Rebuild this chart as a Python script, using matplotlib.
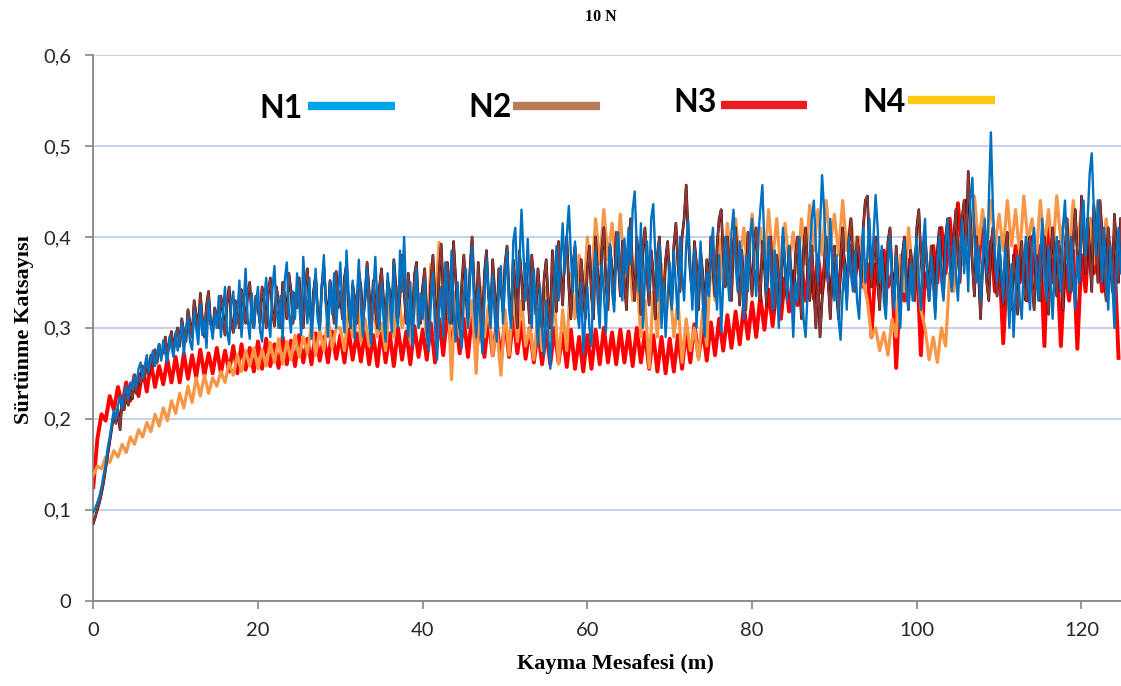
import numpy as np
import matplotlib.pyplot as plt
from matplotlib.lines import Line2D

# friction coefficient readings; N1 and N2 logged every 0.25 m, N3 and N4 every 0.5 m
# (each row below covers 5 m of sliding)
n1 = [
    0.097, 0.102, 0.108, 0.115, 0.125, 0.138, 0.150, 0.168, 0.180, 0.195, 0.210, 0.200, 0.215, 0.225, 0.212, 0.228, 0.236, 0.222, 0.240, 0.232,
    0.248, 0.236, 0.255, 0.262, 0.244, 0.258, 0.270, 0.252, 0.265, 0.275, 0.258, 0.270, 0.282, 0.264, 0.286, 0.272, 0.262, 0.290, 0.278, 0.268,
    0.295, 0.275, 0.288, 0.305, 0.270, 0.298, 0.312, 0.285, 0.276, 0.318, 0.300, 0.282, 0.325, 0.292, 0.310, 0.278, 0.330, 0.305, 0.288, 0.315,
    0.300, 0.335, 0.290, 0.318, 0.345, 0.296, 0.282, 0.325, 0.340, 0.300, 0.315, 0.352, 0.290, 0.322, 0.365, 0.310, 0.288, 0.338, 0.300, 0.325,
    0.345, 0.298, 0.285, 0.330, 0.355, 0.312, 0.290, 0.342, 0.368, 0.320, 0.300, 0.335, 0.288, 0.352, 0.372, 0.318, 0.295, 0.340, 0.310, 0.360,
    0.330, 0.292, 0.378, 0.340, 0.305, 0.355, 0.288, 0.320, 0.365, 0.310, 0.298, 0.345, 0.380, 0.325, 0.290, 0.350, 0.315, 0.360, 0.300, 0.340,
    0.372, 0.318, 0.295, 0.385, 0.340, 0.300, 0.352, 0.288, 0.330, 0.375, 0.320, 0.290, 0.345, 0.365, 0.305, 0.282, 0.338, 0.378, 0.325, 0.298,
    0.350, 0.310, 0.285, 0.360, 0.330, 0.295, 0.372, 0.318, 0.300, 0.385, 0.340, 0.400, 0.330, 0.290, 0.350, 0.280, 0.325, 0.365, 0.300, 0.338,
    0.310, 0.352, 0.290, 0.275, 0.330, 0.360, 0.300, 0.265, 0.318, 0.345, 0.290, 0.372, 0.338, 0.305, 0.385, 0.320, 0.285, 0.350, 0.300, 0.278,
    0.332, 0.365, 0.300, 0.355, 0.390, 0.322, 0.290, 0.345, 0.310, 0.272, 0.330, 0.375, 0.340, 0.300, 0.358, 0.312, 0.285, 0.340, 0.368, 0.305,
    0.350, 0.385, 0.320, 0.300, 0.395, 0.410, 0.345, 0.372, 0.430, 0.380, 0.330, 0.398, 0.350, 0.300, 0.365, 0.320, 0.280, 0.345, 0.300, 0.270,
    0.330, 0.290, 0.255, 0.310, 0.345, 0.390, 0.330, 0.372, 0.415, 0.360, 0.400, 0.434, 0.380, 0.340, 0.395, 0.320, 0.300, 0.350, 0.272, 0.310,
    0.345, 0.300, 0.280, 0.360, 0.385, 0.330, 0.300, 0.370, 0.340, 0.295, 0.355, 0.392, 0.340, 0.318, 0.380, 0.405, 0.350, 0.330, 0.398, 0.360,
    0.410, 0.370, 0.430, 0.450, 0.390, 0.340, 0.415, 0.300, 0.360, 0.395, 0.340, 0.420, 0.436, 0.380, 0.330, 0.392, 0.300, 0.350, 0.290, 0.335,
    0.372, 0.320, 0.385, 0.345, 0.310, 0.400, 0.360, 0.330, 0.392, 0.418, 0.370, 0.320, 0.385, 0.300, 0.350, 0.395, 0.330, 0.290, 0.360, 0.335,
    0.385, 0.410, 0.350, 0.320, 0.380, 0.295, 0.350, 0.400, 0.360, 0.330, 0.405, 0.430, 0.370, 0.340, 0.395, 0.360, 0.310, 0.380, 0.340, 0.400,
    0.420, 0.370, 0.335, 0.400, 0.430, 0.457, 0.390, 0.340, 0.400, 0.360, 0.320, 0.385, 0.350, 0.300, 0.360, 0.410, 0.370, 0.330, 0.390, 0.345,
    0.290, 0.350, 0.330, 0.400, 0.360, 0.310, 0.290, 0.340, 0.380, 0.420, 0.440, 0.390, 0.350, 0.410, 0.468, 0.430, 0.380, 0.350, 0.420, 0.370,
    0.330, 0.380, 0.310, 0.287, 0.340, 0.370, 0.320, 0.400, 0.360, 0.340, 0.385, 0.330, 0.310, 0.370, 0.410, 0.350, 0.380, 0.420, 0.360, 0.400,
    0.446, 0.410, 0.350, 0.390, 0.330, 0.310, 0.370, 0.400, 0.350, 0.320, 0.380, 0.340, 0.300, 0.360, 0.395, 0.340, 0.320, 0.370, 0.330, 0.380,
    0.400, 0.350, 0.320, 0.390, 0.420, 0.360, 0.330, 0.380, 0.345, 0.310, 0.370, 0.400, 0.350, 0.330, 0.390, 0.420, 0.370, 0.340, 0.400, 0.360,
    0.330, 0.380, 0.420, 0.360, 0.400, 0.340, 0.440, 0.465, 0.400, 0.350, 0.390, 0.330, 0.370, 0.420, 0.360, 0.440, 0.515, 0.430, 0.380, 0.350,
    0.400, 0.360, 0.330, 0.390, 0.350, 0.300, 0.370, 0.290, 0.340, 0.380, 0.330, 0.310, 0.370, 0.400, 0.350, 0.320, 0.390, 0.410, 0.360, 0.330,
    0.380, 0.420, 0.360, 0.330, 0.390, 0.350, 0.310, 0.370, 0.400, 0.360, 0.340, 0.410, 0.440, 0.380, 0.340, 0.400, 0.360, 0.320, 0.380, 0.350,
    0.410, 0.440, 0.380, 0.420, 0.470, 0.492, 0.430, 0.380, 0.440, 0.400, 0.350, 0.410, 0.360, 0.320, 0.390, 0.350, 0.300, 0.370, 0.410, 0.360,
]
n2 = [
    0.085, 0.092, 0.100, 0.108, 0.118, 0.130, 0.145, 0.160, 0.175, 0.190, 0.205, 0.195, 0.210, 0.188, 0.220, 0.210, 0.226, 0.215, 0.232, 0.222,
    0.240, 0.228, 0.250, 0.238, 0.258, 0.245, 0.265, 0.250, 0.270, 0.258, 0.276, 0.262, 0.282, 0.268, 0.275, 0.290, 0.270, 0.285, 0.296, 0.275,
    0.292, 0.300, 0.280, 0.310, 0.295, 0.285, 0.320, 0.305, 0.290, 0.330, 0.315, 0.295, 0.338, 0.310, 0.290, 0.325, 0.340, 0.305, 0.295, 0.322,
    0.310, 0.300, 0.335, 0.318, 0.292, 0.328, 0.345, 0.308, 0.295, 0.330, 0.315, 0.300, 0.342, 0.325, 0.305, 0.338, 0.350, 0.312, 0.300, 0.335,
    0.322, 0.305, 0.345, 0.330, 0.300, 0.338, 0.355, 0.318, 0.302, 0.345, 0.328, 0.300, 0.350, 0.335, 0.310, 0.360, 0.342, 0.305, 0.338, 0.322,
    0.355, 0.315, 0.300, 0.348, 0.365, 0.325, 0.305, 0.340, 0.358, 0.318, 0.300, 0.345, 0.368, 0.330, 0.310, 0.352, 0.335, 0.305, 0.362, 0.322,
    0.340, 0.310, 0.355, 0.370, 0.325, 0.300, 0.348, 0.332, 0.305, 0.362, 0.345, 0.310, 0.330, 0.372, 0.340, 0.305, 0.352, 0.325, 0.300, 0.345,
    0.365, 0.330, 0.305, 0.352, 0.340, 0.310, 0.375, 0.345, 0.312, 0.335, 0.380, 0.340, 0.305, 0.360, 0.330, 0.300, 0.358, 0.372, 0.320, 0.305,
    0.345, 0.365, 0.310, 0.295, 0.350, 0.380, 0.330, 0.300, 0.360, 0.392, 0.340, 0.310, 0.372, 0.345, 0.305, 0.395, 0.355, 0.318, 0.300, 0.348,
    0.380, 0.340, 0.310, 0.365, 0.400, 0.345, 0.305, 0.372, 0.330, 0.300, 0.360, 0.385, 0.335, 0.310, 0.375, 0.340, 0.300, 0.365, 0.345, 0.318,
    0.370, 0.390, 0.335, 0.310, 0.375, 0.345, 0.300, 0.385, 0.355, 0.320, 0.370, 0.340, 0.305, 0.380, 0.350, 0.315, 0.365, 0.335, 0.300, 0.355,
    0.375, 0.330, 0.300, 0.385, 0.350, 0.318, 0.395, 0.360, 0.325, 0.380, 0.400, 0.345, 0.310, 0.370, 0.390, 0.340, 0.315, 0.375, 0.345, 0.310,
    0.365, 0.390, 0.335, 0.310, 0.400, 0.360, 0.325, 0.385, 0.410, 0.350, 0.320, 0.390, 0.365, 0.330, 0.405, 0.375, 0.335, 0.395, 0.350, 0.320,
    0.385, 0.420, 0.360, 0.330, 0.400, 0.370, 0.315, 0.390, 0.410, 0.355, 0.325, 0.385, 0.360, 0.310, 0.380, 0.400, 0.345, 0.320, 0.375, 0.395,
    0.350, 0.325, 0.390, 0.415, 0.370, 0.340, 0.400, 0.420, 0.457, 0.400, 0.360, 0.335, 0.395, 0.370, 0.320, 0.385, 0.360, 0.310, 0.375, 0.345,
    0.400, 0.365, 0.335, 0.390, 0.420, 0.430, 0.380, 0.345, 0.400, 0.365, 0.330, 0.395, 0.410, 0.360, 0.325, 0.385, 0.350, 0.320, 0.405, 0.370,
    0.335, 0.390, 0.410, 0.360, 0.330, 0.395, 0.370, 0.325, 0.385, 0.400, 0.350, 0.320, 0.380, 0.355, 0.325, 0.400, 0.370, 0.335, 0.390, 0.360,
    0.320, 0.375, 0.400, 0.350, 0.310, 0.385, 0.410, 0.360, 0.330, 0.390, 0.345, 0.300, 0.360, 0.290, 0.330, 0.370, 0.400, 0.350, 0.310, 0.365,
    0.390, 0.340, 0.310, 0.375, 0.410, 0.360, 0.330, 0.395, 0.420, 0.370, 0.340, 0.400, 0.380, 0.350, 0.410, 0.440, 0.445, 0.390, 0.345, 0.380,
    0.400, 0.350, 0.320, 0.385, 0.360, 0.325, 0.395, 0.410, 0.360, 0.330, 0.390, 0.345, 0.315, 0.380, 0.400, 0.350, 0.320, 0.385, 0.360, 0.330,
    0.410, 0.430, 0.380, 0.345, 0.400, 0.370, 0.330, 0.390, 0.360, 0.320, 0.385, 0.410, 0.360, 0.335, 0.400, 0.420, 0.375, 0.345, 0.400, 0.430,
    0.380, 0.350, 0.420, 0.440, 0.390, 0.472, 0.420, 0.370, 0.335, 0.400, 0.360, 0.310, 0.370, 0.400, 0.350, 0.330, 0.390, 0.410, 0.360, 0.335,
    0.390, 0.360, 0.325, 0.385, 0.405, 0.350, 0.320, 0.380, 0.355, 0.315, 0.375, 0.395, 0.345, 0.330, 0.390, 0.400, 0.350, 0.320, 0.380, 0.360,
    0.330, 0.380, 0.400, 0.350, 0.315, 0.375, 0.410, 0.365, 0.335, 0.395, 0.370, 0.320, 0.385, 0.420, 0.370, 0.340, 0.395, 0.430, 0.380, 0.350,
    0.445, 0.400, 0.360, 0.420, 0.380, 0.340, 0.435, 0.400, 0.350, 0.440, 0.405, 0.360, 0.330, 0.410, 0.380, 0.340, 0.425, 0.390, 0.350, 0.420,
]
n3 = [
    0.125, 0.178, 0.205, 0.198, 0.225, 0.210, 0.235, 0.215, 0.240, 0.220,
    0.248, 0.225, 0.255, 0.230, 0.262, 0.235, 0.258, 0.238, 0.265, 0.240,
    0.268, 0.240, 0.272, 0.244, 0.270, 0.246, 0.276, 0.248, 0.272, 0.250,
    0.278, 0.250, 0.275, 0.252, 0.280, 0.250, 0.282, 0.254, 0.278, 0.252,
    0.285, 0.255, 0.288, 0.258, 0.282, 0.256, 0.290, 0.260, 0.286, 0.258,
    0.292, 0.262, 0.288, 0.260, 0.294, 0.264, 0.290, 0.262, 0.296, 0.266,
    0.292, 0.262, 0.298, 0.265, 0.294, 0.263, 0.296, 0.260, 0.292, 0.258,
    0.298, 0.262, 0.294, 0.258, 0.300, 0.265, 0.296, 0.260, 0.302, 0.268,
    0.298, 0.265, 0.305, 0.262, 0.310, 0.270, 0.318, 0.278, 0.314, 0.272,
    0.310, 0.268, 0.316, 0.274, 0.306, 0.268, 0.312, 0.270, 0.305, 0.265,
    0.308, 0.268, 0.312, 0.272, 0.306, 0.266, 0.300, 0.262, 0.298, 0.260,
    0.296, 0.260, 0.300, 0.262, 0.294, 0.257, 0.298, 0.255, 0.290, 0.252,
    0.292, 0.255, 0.298, 0.260, 0.300, 0.262, 0.295, 0.260, 0.298, 0.262,
    0.296, 0.258, 0.300, 0.262, 0.295, 0.255, 0.292, 0.252, 0.290, 0.250,
    0.288, 0.252, 0.292, 0.255, 0.298, 0.262, 0.304, 0.268, 0.300, 0.264,
    0.306, 0.270, 0.310, 0.275, 0.314, 0.278, 0.318, 0.282, 0.324, 0.288,
    0.328, 0.290, 0.335, 0.298, 0.342, 0.302, 0.348, 0.310, 0.355, 0.318,
    0.362, 0.325, 0.370, 0.330, 0.375, 0.332, 0.380, 0.338, 0.375, 0.335,
    0.375, 0.340, 0.385, 0.350, 0.390, 0.355, 0.380, 0.345, 0.370, 0.290,
    0.370, 0.340, 0.385, 0.345, 0.360, 0.256, 0.350, 0.330, 0.375, 0.340,
    0.380, 0.270, 0.360, 0.340, 0.390, 0.350, 0.410, 0.360, 0.420, 0.370,
    0.437, 0.380, 0.440, 0.390, 0.430, 0.370, 0.420, 0.360, 0.395, 0.340,
    0.380, 0.283, 0.370, 0.340, 0.390, 0.350, 0.380, 0.330, 0.400, 0.345,
    0.390, 0.280, 0.410, 0.350, 0.380, 0.280, 0.370, 0.330, 0.385, 0.277,
    0.380, 0.340, 0.420, 0.360, 0.390, 0.340, 0.410, 0.355, 0.380, 0.267,
]
n4 = [
    0.138, 0.148, 0.145, 0.158, 0.152, 0.165, 0.158, 0.172, 0.163, 0.180,
    0.172, 0.188, 0.180, 0.196, 0.186, 0.205, 0.192, 0.212, 0.198, 0.220,
    0.206, 0.228, 0.212, 0.236, 0.218, 0.245, 0.225, 0.248, 0.228, 0.245,
    0.236, 0.252, 0.240, 0.262, 0.248, 0.270, 0.252, 0.275, 0.258, 0.278,
    0.255, 0.276, 0.258, 0.284, 0.262, 0.288, 0.260, 0.285, 0.265, 0.292,
    0.268, 0.290, 0.272, 0.305, 0.270, 0.298, 0.275, 0.312, 0.278, 0.300,
    0.300, 0.275, 0.320, 0.290, 0.330, 0.285, 0.310, 0.280, 0.325, 0.290,
    0.305, 0.275, 0.330, 0.290, 0.345, 0.300, 0.320, 0.285, 0.350, 0.300,
    0.330, 0.290, 0.370, 0.320, 0.394, 0.330, 0.360, 0.243, 0.340, 0.290,
    0.360, 0.300, 0.330, 0.250, 0.345, 0.290, 0.325, 0.270, 0.300, 0.248,
    0.320, 0.270, 0.340, 0.285, 0.330, 0.280, 0.300, 0.265, 0.320, 0.275,
    0.345, 0.290, 0.330, 0.260, 0.320, 0.275, 0.360, 0.310, 0.380, 0.320,
    0.400, 0.350, 0.420, 0.370, 0.430, 0.375, 0.415, 0.365, 0.425, 0.360,
    0.390, 0.330, 0.360, 0.290, 0.330, 0.256, 0.340, 0.290, 0.370, 0.310,
    0.350, 0.290, 0.330, 0.262, 0.310, 0.275, 0.300, 0.265, 0.320, 0.280,
    0.380, 0.330, 0.400, 0.350, 0.415, 0.365, 0.420, 0.370, 0.410, 0.360,
    0.425, 0.370, 0.410, 0.365, 0.430, 0.375, 0.420, 0.360, 0.415, 0.370,
    0.405, 0.360, 0.420, 0.370, 0.435, 0.385, 0.430, 0.380, 0.440, 0.390,
    0.425, 0.380, 0.440, 0.385, 0.420, 0.375, 0.400, 0.350, 0.330, 0.290,
    0.300, 0.275, 0.295, 0.270, 0.310, 0.290, 0.380, 0.340, 0.410, 0.360,
    0.390, 0.320, 0.300, 0.265, 0.290, 0.262, 0.300, 0.280, 0.360, 0.340,
    0.400, 0.370, 0.430, 0.380, 0.445, 0.390, 0.430, 0.385, 0.440, 0.390,
    0.425, 0.385, 0.440, 0.390, 0.430, 0.380, 0.445, 0.395, 0.420, 0.375,
    0.440, 0.390, 0.430, 0.380, 0.445, 0.395, 0.425, 0.380, 0.440, 0.390,
    0.430, 0.380, 0.420, 0.370, 0.440, 0.385, 0.420, 0.375, 0.400, 0.370,
]
fine_step = 0.25
coarse_step = 0.5
d1 = np.arange(len(n1)) * fine_step
d2 = np.arange(len(n2)) * fine_step
d3 = np.arange(len(n3)) * coarse_step
d4 = np.arange(len(n4)) * coarse_step

y_ticks = [0, 0.1, 0.2, 0.3, 0.4, 0.5, 0.6]
y_tick_labels = ['0', '0,1', '0,2', '0,3', '0,4', '0,5', '0,6']
x_ticks = [0, 20, 40, 60, 80, 100, 120]
legend_names = ['N1', 'N2', 'N3', 'N4']

fig = plt.figure(figsize=(11.21, 6.86), dpi=100)
ax = fig.add_axes([0.0832, 0.1243, 0.9168, 0.7955])

ax.plot(d3, n3, color='#FF0000', lw=2.8, zorder=2)
ax.plot(d4, n4, color='#F79646', lw=2.3, zorder=3)
ax.plot(d2, n2, color='black', lw=1.9, zorder=4)
ax.plot(d2, n2, color='#943634', lw=1.5, zorder=5)
ax.plot(d1, n1, color='#0070C0', lw=1.7, zorder=6)

ax.set_xlim(0, 124.8)
ax.set_ylim(0, 0.6)
ax.set_yticks(y_ticks)
ax.set_yticklabels(y_tick_labels)
ax.set_xticks(x_ticks)
ax.yaxis.grid(True, color='#BCCAEC', lw=1.2, zorder=0)
ax.set_axisbelow(True)
for side in ['top', 'right']:
    ax.spines[side].set_visible(False)
for side in ['left', 'bottom']:
    ax.spines[side].set_color('#868686')
    ax.spines[side].set_linewidth(1.3)
ax.tick_params(colors='#868686', length=6, width=1.2, labelcolor='#262626')
ax.tick_params(axis='y', pad=10, labelsize=14.5)
ax.tick_params(axis='x', pad=9, labelsize=14.5)
for lab in ax.get_xticklabels() + ax.get_yticklabels():
    lab.set_fontfamily('Lato')

ax.set_xlabel('Kayma Mesafesi (m)', family='Liberation Serif', weight='bold', fontsize=16)
ax.xaxis.set_label_coords(0.5076, -0.097)
ax.set_ylabel('Sürtünme Katsayısı', family='Liberation Serif', weight='bold', fontsize=16)
ax.yaxis.set_label_coords(-0.058, 0.496)

fig.text(601 / 1121, 1 - 17 / 686, '10 N', family='Liberation Serif', weight='bold',
         fontsize=11.5, ha='center', va='center')

# hand-placed legend: name followed by a thick colour bar
legend_colors = ['#00A2E8', '#B97A57', '#ED1C24', '#FFC90E']
text_x = [259, 468, 673, 862]
text_base = [118, 117, 112, 112]
bar_x = [(308, 395), (513, 600), (721, 807), (908, 995)]
bar_y = [106, 106, 105, 100]
W, H = 1121, 686
for name, c, tx, tb, (x0, x1), by in zip(legend_names, legend_colors, text_x, text_base, bar_x, bar_y):
    fig.text(tx / W, 1 - tb / H, name, family='Lato', weight='bold', fontsize=23,
             ha='left', va='baseline', color='black')
    fig.add_artist(Line2D([x0 / W, x1 / W], [1 - by / H, 1 - by / H], color=c, lw=6,
                          solid_capstyle='butt', transform=fig.transFigure))

fig.savefig('out.png', dpi=100)
